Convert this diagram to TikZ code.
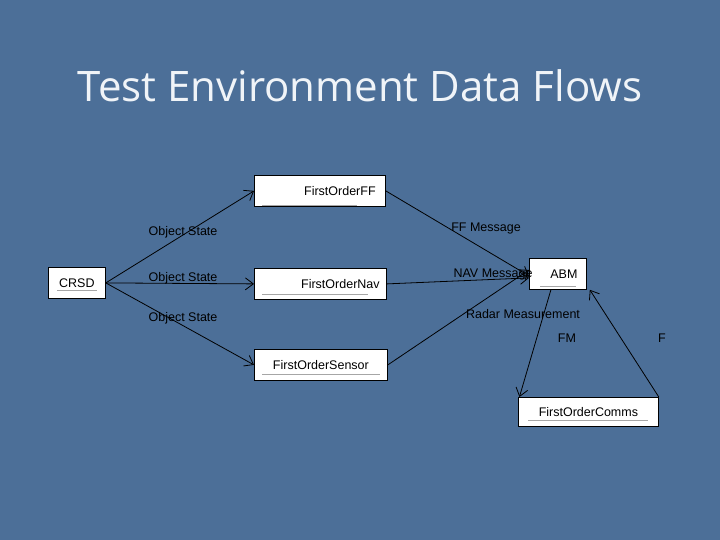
\documentclass[tikz,border=0pt]{standalone}
\usepackage{fontspec}
\setmainfont{Liberation Sans}
\newfontfamily\titlefont{Open Sans}
\usetikzlibrary{arrows.meta}
\definecolor{bg}{RGB}{76,111,152}
\definecolor{ttl}{RGB}{240,244,248}
\tikzset{
  box/.style={draw=black,fill=white,line width=0.8pt,minimum height=31pt,inner sep=0pt,font=\fontsize{12.5}{14}\selectfont,anchor=north west},
  flow/.style={draw=black,line width=0.8pt,-{Straight Barb[length=8pt,width=12pt]}},
  lbl/.style={font=\fontsize{12.5}{14}\selectfont,text=black,inner sep=0pt},
  ul/.style={draw=gray!70,line width=0.5pt}
}
\begin{document}
\begin{tikzpicture}[x=1pt,y=-1pt]
\useasboundingbox (0,0) rectangle (720,540);
\fill[bg] (0,0) rectangle (720,540);
\node[font=\titlefont\fontsize{42}{48}\selectfont,text=ttl] (title) at (360,86) {Test Environment Data Flows};
\node[box,minimum width=57pt] (crsd) at (48,267) {CRSD};
\node[box,minimum width=131pt] (ff) at (254,175) {\hspace*{40pt}FirstOrderFF};
\node[box,minimum width=132pt] (nav) at (254,268) {\hspace*{40pt}FirstOrderNav};
\node[box,minimum width=133pt] (sen) at (254,349) {FirstOrderSensor};
\node[box,minimum width=57pt] (abm) at (529,258) {\hspace*{12pt}ABM};
\node[box,minimum width=140pt,minimum height=29pt] (com) at (518,397) {FirstOrderComms};
\draw[ul] (262,205) -- (357,205);
\draw[ul] (262,294) -- (368,294);
\draw[ul] (262,374) -- (380,374);
\draw[ul] (540,286) -- (576,286);
\draw[ul] (57,290) -- (97,290);
\draw[ul] (528,420) -- (648,420);
\draw[flow] (crsd.east) -- (ff.west);
\draw[flow] (crsd.east) -- (nav.west);
\draw[flow] (crsd.east) -- (sen.west);
\draw[flow] (ff.east) -- ([yshift=-2pt]abm.west);
\draw[flow] (nav.east) -- ([yshift=-4pt]abm.west);
\draw[flow] (sen.east) -- ([yshift=4pt]abm.west);
\draw[flow] ([xshift=-7pt]abm.south) -- ([xshift=-69pt]com.north);
\draw[flow] (com.north east) -- ([xshift=3pt]abm.south east);
\node[lbl] (l1) at (183,232) {Object State};
\node[lbl] (l2) at (183,278) {Object State};
\node[lbl] (l3) at (183,318) {Object State};
\node[lbl] (l4) at (486,228) {FF Message};
\node[lbl] (l5) at (493,274) {NAV Message};
\node[lbl] (l6) at (523,314) {Radar Measurement};
\node[lbl] (l7) at (567,338) {FM};
\node[lbl] (l8) at (662,338) {F};
\end{tikzpicture}
\end{document}
